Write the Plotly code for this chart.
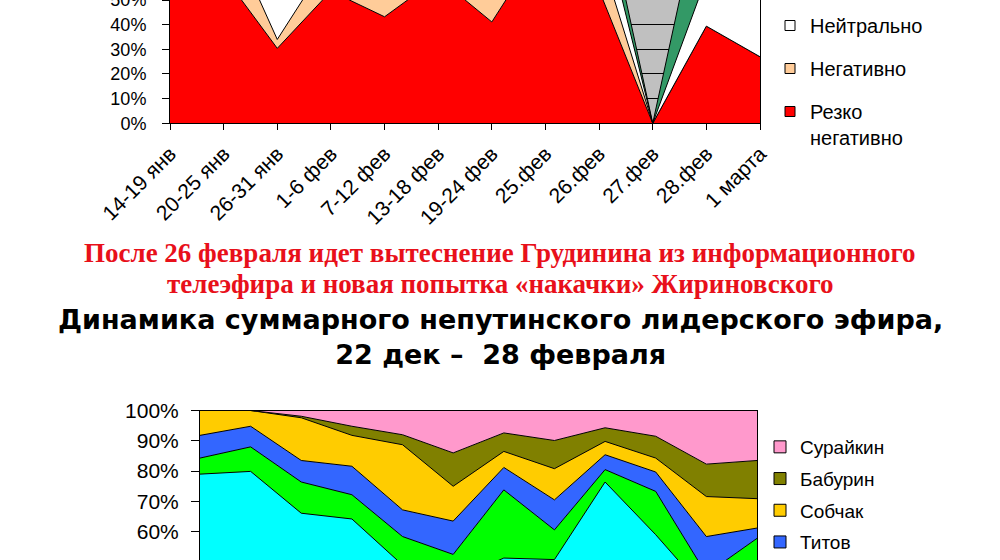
import plotly.graph_objects as go

# ---- top chart: tone of coverage, % of air time ----
periods = ['14-19 янв', '20-25 янв', '26-31 янв', '1-6 фев', '7-12 фев', '13-18 фев',
           '19-24 фев', '25.фев', '26.фев', '27.фев', '28.фев', '1 марта']
very_negative = [72, 59.8, 30.4, 53.6, 43.2, 59, 41.1, 75, 54, 0, 39.4, 27]
negative = [12, 22.6, 3.6, 14.3, 20, 12, 20, 8, 16, 0, 0, 0]
neutral = [10, 10, 30, 20, 20, 15, 20, 10, 18, 0, 19.6, 35]
positive = [6, 7.6, 36, 12.1, 16.8, 14, 18.9, 7, 12, 0, 41, 38]

# ---- bottom chart: non-Putin leaders' air time, % ----
weeks = ['22-28 дек', '29 дек-4 янв', '5-11 янв', '12-18 янв', '19-25 янв', '26-31 янв',
         '1-7 фев', '8-14 фев', '15-21 фев', '22-25 фев', '26-27 фев', '28 фев']
zhirinovsky = [79, 79.9, 66.1, 64.2, 49, 44, 51.3, 50.8, 76.4, 59, 40, 45]
yavlinsky = [5.3, 8.1, 10.3, 8.0, 9.4, 8.5, 22.5, 9.8, 4.1, 14.3, 6, 12.8]
titov = [7.5, 6.8, 7.1, 9.4, 8.8, 11.0, 7.4, 9.9, 4.9, 6.4, 12.4, 3.4]
sobchak = [8.2, 5.2, 14.1, 10.2, 21.5, 11.5, 5.3, 10.3, 4.4, 4.6, 13.2, 9.7]
baburin = [0, 0, 0.5, 3.0, 3.3, 11, 6.1, 9.3, 4.5, 7.2, 10.7, 12.6]
suraykin = [0, 0, 1.9, 5.2, 8, 14, 7.4, 9.9, 5.7, 8.5, 17.7, 16.5]

fig = go.Figure()

# top stacked areas (bottom to top)
top_series = [
    ('Резко<br>негативно', very_negative, '#FF0000'),
    ('Негативно', negative, '#FFCC99'),
    ('Нейтрально', neutral, '#FFFFFF'),
    ('Позитивно', positive, '#339966'),
]
for name, vals, col in top_series:
    fig.add_trace(go.Scatter(x=periods, y=vals, name=name, stackgroup='top',
                             mode='lines', line=dict(color='black', width=1),
                             fillcolor=col, showlegend=False,
                             xaxis='x', yaxis='y'))

# bottom stacked areas
bottom_series = [
    ('Жириновский', zhirinovsky, '#00FFFF'),
    ('Явлинский', yavlinsky, '#00FF00'),
    ('Титов', titov, '#3366FF'),
    ('Собчак', sobchak, '#FFCC00'),
    ('Бабурин', baburin, '#808000'),
    ('Сурайкин', suraykin, '#FF99CC'),
]
for name, vals, col in bottom_series:
    fig.add_trace(go.Scatter(x=weeks, y=vals, name=name, stackgroup='bottom',
                             mode='lines', line=dict(color='black', width=1),
                             fillcolor=col, showlegend=False,
                             xaxis='x2', yaxis='y2'))

# legend entries (square swatches like Excel)
for i, (name, vals, col) in enumerate(reversed(top_series[:3])):
    fig.add_trace(go.Scatter(x=[None], y=[None], mode='markers', name=name,
                             marker=dict(symbol='square', size=10, color=col,
                                         line=dict(color='black', width=1)),
                             legend='legend', legendgroup='t%d' % i))
for i, (name, vals, col) in enumerate(reversed(bottom_series[2:])):
    fig.add_trace(go.Scatter(x=[None], y=[None], mode='markers', name=name,
                             marker=dict(symbol='square', size=12, color=col,
                                         line=dict(color='black', width=1)),
                             legend='legend2', legendgroup='b%d' % i))

H = 560.0
axis_common = dict(showline=True, linecolor='black', linewidth=1, mirror=True,
                   zeroline=False, automargin=False)

fig.update_layout(
    width=1000, height=560,
    margin=dict(l=0, r=0, t=0, b=0, autoexpand=False),
    paper_bgcolor='white', plot_bgcolor='#C0C0C0',
    font=dict(family='Liberation Sans, Arial, sans-serif', color='black'),
    xaxis=dict(domain=[0.170, 0.760], anchor='y', type='category', range=[0, 11],
               ticks='outside', ticklen=6, tickcolor='black', tickangle=-45,
               tickfont=dict(size=21), ticklabelstandoff=3,
               showgrid=False, **axis_common),
    yaxis=dict(domain=[1 - 123.3 / H, 1], anchor='x', range=[0, 50], dtick=10,
               ticksuffix='%', ticks='outside', ticklen=7, tickcolor='black',
               tickfont=dict(size=18), ticklabelstandoff=12, ticklabeloverflow='allow',
               showgrid=True, gridcolor='black', gridwidth=1, **axis_common),
    xaxis2=dict(domain=[0.200, 0.757], anchor='y2', type='category', range=[0, 11],
                showticklabels=False, ticks='', showgrid=False, **axis_common),
    yaxis2=dict(domain=[0, 1 - 410.5 / H], anchor='x2', range=[50.66, 100], dtick=10,
                ticksuffix='%', ticks='outside', ticklen=8, tickcolor='black',
                tickfont=dict(size=21), ticklabelstandoff=8, ticklabeloverflow='allow',
                showgrid=False, **axis_common),
    legend=dict(x=0.770, y=1 - 6 / H, xanchor='left', yanchor='top',
                font=dict(size=20), traceorder='grouped', tracegroupgap=14,
                valign='top', bgcolor='rgba(0,0,0,0)'),
    legend2=dict(x=0.760, y=1 - 428 / H, xanchor='left', yanchor='top',
                 font=dict(size=19), traceorder='grouped', tracegroupgap=4,
                 bgcolor='rgba(0,0,0,0)'),
    showlegend=True,
)

red_font = dict(family='Liberation Serif, Times New Roman, serif', size=27, color='#E8101A')
title_font = dict(family='DejaVu Sans, Arial, sans-serif', size=27, color='black')
texts = [
    ('<b>После 26 февраля идет вытеснение Грудинина из информационного</b>', 253, red_font),
    ('<b>телеэфира и новая попытка «накачки» Жириновского</b>', 284, red_font),
    ('<b>Динамика суммарного непутинского лидерского эфира,<br>22 дек –  28 февраля</b>',
     337, title_font),
]
for txt, ypix, f in texts:
    fig.add_annotation(text=txt, xref='paper', yref='paper', x=0.5, y=1 - ypix / H,
                       xanchor='center', yanchor='middle', showarrow=False, font=f)

# partially visible 50% label at the cut-off bottom edge
fig.add_annotation(text='50%', xref='paper', yref='y2', x=0.181, y=50,
                   xanchor='right', yanchor='middle', showarrow=False,
                   font=dict(size=21))

# page body margin would shift the figure by 8px, drop it
fig.write_html('out.html', config={'displayModeBar': False},
               post_script="document.body.style.margin='0';document.body.style.overflow='hidden';")
